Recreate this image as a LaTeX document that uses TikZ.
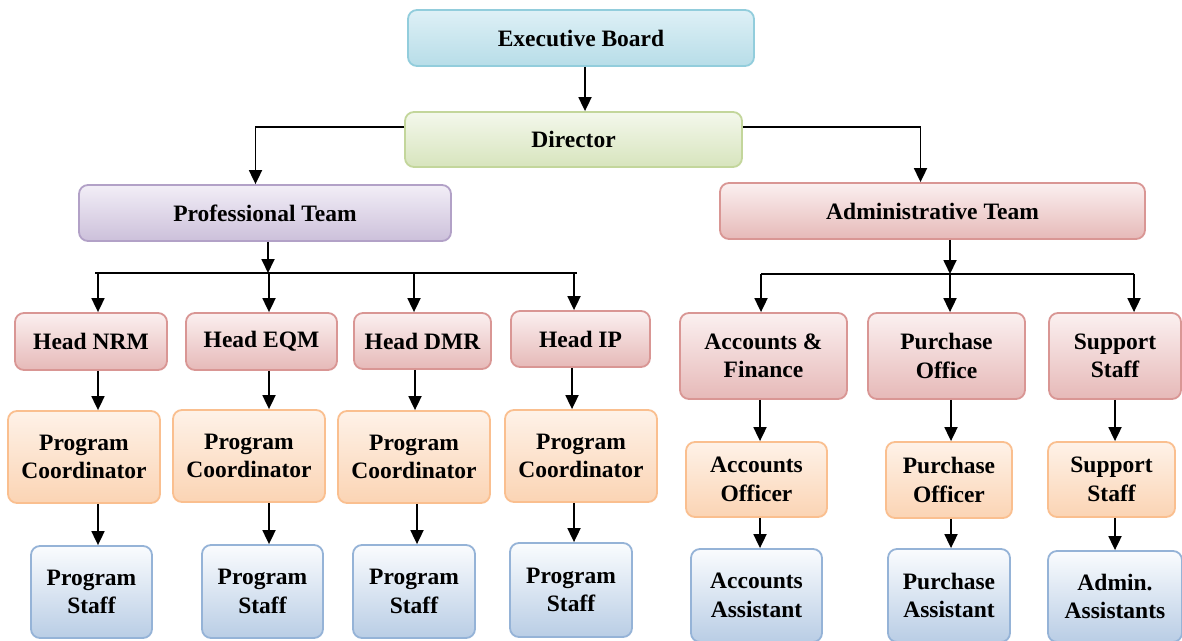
\documentclass[tikz,border=0pt]{standalone}
\usepackage{fontspec}
\setmainfont{Liberation Serif}
\usetikzlibrary{arrows.meta,calc}
\definecolor{bluetop}{RGB}{222,240,246}
\definecolor{bluebot}{RGB}{183,221,232}
\definecolor{blueln}{RGB}{146,205,220}
\definecolor{greentop}{RGB}{244,248,236}
\definecolor{greenbot}{RGB}{215,228,189}
\definecolor{greenln}{RGB}{195,214,155}
\definecolor{purptop}{RGB}{242,238,247}
\definecolor{purpbot}{RGB}{204,192,218}
\definecolor{purpln}{RGB}{178,161,199}
\definecolor{redtop}{RGB}{251,240,240}
\definecolor{redbot}{RGB}{230,185,184}
\definecolor{redln}{RGB}{217,150,148}
\definecolor{peachtop}{RGB}{254,242,232}
\definecolor{peachbot}{RGB}{251,212,180}
\definecolor{peachln}{RGB}{250,191,143}
\definecolor{sbluetop}{RGB}{250,252,254}
\definecolor{sbluebot}{RGB}{185,205,229}
\definecolor{sblueln}{RGB}{149,179,215}
\tikzset{
  box/.style={rounded corners=9pt, line width=1.8pt, inner sep=0pt, align=center,
    font=\bfseries\fontsize{23.5}{28.5}\selectfont},
  bluebox/.style={box, draw=blueln, top color=bluetop, bottom color=bluebot},
  greenbox/.style={box, draw=greenln, top color=greentop, bottom color=greenbot},
  purpbox/.style={box, draw=purpln, top color=purptop, bottom color=purpbot},
  redbox/.style={box, draw=redln, top color=redtop, bottom color=redbot},
  peachbox/.style={box, draw=peachln, top color=peachtop, bottom color=peachbot},
  sbluebox/.style={box, draw=sblueln, top color=sbluetop, bottom color=sbluebot},
  arr/.style={line width=1.8pt, -{Triangle[length=14pt,width=13pt]}},
  ln/.style={line width=1.8pt}
}
\newcommand\bx[7]{\node[#2, minimum width={#5-#3}, minimum height={#6-#4}] (#1) at ({(#3+#5)/2},{(#4+#6)/2}) {#7};}
\begin{document}
\begin{tikzpicture}[x=1pt,y=-1pt]
\clip (0,0) rectangle (1182,640);
\fill[white] (0,0) rectangle (1182,640);
% top
\bx{exec}{bluebox}{408}{10}{754}{66}{Executive Board}
\bx{dir}{greenbox}{405}{112}{742}{167}{Director}
\bx{prof}{purpbox}{79}{185}{451}{241}{Professional Team}
\bx{admin}{redbox}{720}{183}{1145}{239}{Administrative Team}
% heads
\bx{h1}{redbox}{15}{313}{167}{370}{Head NRM}
\bx{h2}{redbox}{186}{313}{337}{370}{Head EQM}
\bx{h3}{redbox}{354}{313}{491}{369}{Head DMR}
\bx{h4}{redbox}{511}{311}{650}{367}{Head IP}
\bx{pc1}{peachbox}{8}{411}{160}{503}{Program\\Coordinator}
\bx{pc2}{peachbox}{173}{410}{325}{502}{Program\\Coordinator}
\bx{pc3}{peachbox}{338}{411}{490}{503}{Program\\Coordinator}
\bx{pc4}{peachbox}{505}{410}{657}{502}{Program\\Coordinator}
\bx{ps1}{sbluebox}{31}{546}{152}{638}{Program\\Staff}
\bx{ps2}{sbluebox}{202}{545}{323}{638}{Program\\Staff}
\bx{ps3}{sbluebox}{353}{545}{475}{638}{Program\\Staff}
\bx{ps4}{sbluebox}{510}{543}{632}{637}{Program\\Staff}
% admin
\bx{af}{redbox}{680}{313}{847}{399}{Accounts \&\\Finance}
\bx{po}{redbox}{868}{313}{1025}{399}{Purchase\\Office}
\bx{ss}{redbox}{1049}{313}{1181}{399}{Support\\Staff}
\bx{ao}{peachbox}{686}{442}{827}{517}{Accounts\\Officer}
\bx{puo}{peachbox}{886}{442}{1012}{518}{Purchase\\Officer}
\bx{ss2}{peachbox}{1048}{442}{1175}{517}{Support\\Staff}
\bx{aa}{sbluebox}{691}{549}{822}{642}{Accounts\\Assistant}
\bx{pa}{sbluebox}{888}{549}{1010}{642}{Purchase\\Assistant}
\bx{ada}{sbluebox}{1048}{551}{1182}{642}{Admin.\\Assistants}
% connectors top
\coordinate (c0) at (585,0);
\draw[arr] (exec.south -| c0) -- (dir.north -| c0);
\draw[arr] ([yshift=12.5pt]dir.west) -| ([xshift=-9.5pt]prof.north);
\draw[arr] ([yshift=12.5pt]dir.east) -| ([xshift=-12pt]admin.north);
% professional bus
\coordinate (pb) at (268,273);
\coordinate (pbl) at (95,273);
\coordinate (pbr) at (577,273);
\draw[arr] (prof.south -| pb) -- (pb);
\draw[ln] (pbl) -- (pbr);
\coordinate (d1) at (98,273);
\coordinate (d2) at (269,273);
\coordinate (d3) at (414,273);
\coordinate (d4) at (574,273);
\draw[arr] (d1) -- (d1 |- h1.north);
\draw[arr] (d2) -- (d2 |- h2.north);
\draw[arr] (d3) -- (d3 |- h3.north);
\draw[arr] (d4) -- (d4 |- h4.north);
\coordinate (e1) at (98,0);
\coordinate (e2) at (269,0);
\coordinate (e3) at (415,0);
\coordinate (e4) at (572,0);
\draw[arr] (h1.south -| e1) -- (pc1.north -| e1);
\draw[arr] (h2.south -| e2) -- (pc2.north -| e2);
\draw[arr] (h3.south -| e3) -- (pc3.north -| e3);
\draw[arr] (h4.south -| e4) -- (pc4.north -| e4);
\coordinate (f1) at (98,0);
\coordinate (f2) at (269,0);
\coordinate (f3) at (417,0);
\coordinate (f4) at (574,0);
\draw[arr] (pc1.south -| f1) -- (ps1.north -| f1);
\draw[arr] (pc2.south -| f2) -- (ps2.north -| f2);
\draw[arr] (pc3.south -| f3) -- (ps3.north -| f3);
\draw[arr] (pc4.south -| f4) -- (ps4.north -| f4);
% admin bus
\coordinate (ab) at (950,274);
\coordinate (abl) at (761,274);
\coordinate (abr) at (1134,274);
\draw[arr] (admin.south -| ab) -- (ab);
\draw[ln] (abl) -- (abr);
\draw[arr] (abl) -- (abl |- af.north);
\draw[arr] (ab) -- (ab |- po.north);
\draw[arr] (abr) -- (abr |- ss.north);
\coordinate (g1) at (760,0);
\coordinate (g2) at (951,0);
\coordinate (g3) at (1115,0);
\draw[arr] (af.south -| g1) -- (ao.north -| g1);
\draw[arr] (po.south -| g2) -- (puo.north -| g2);
\draw[arr] (ss.south -| g3) -- (ss2.north -| g3);
\draw[arr] (ao.south -| g1) -- (aa.north -| g1);
\draw[arr] (puo.south -| g2) -- (pa.north -| g2);
\draw[arr] (ss2.south -| g3) -- (ada.north -| g3);
\end{tikzpicture}
\end{document}
